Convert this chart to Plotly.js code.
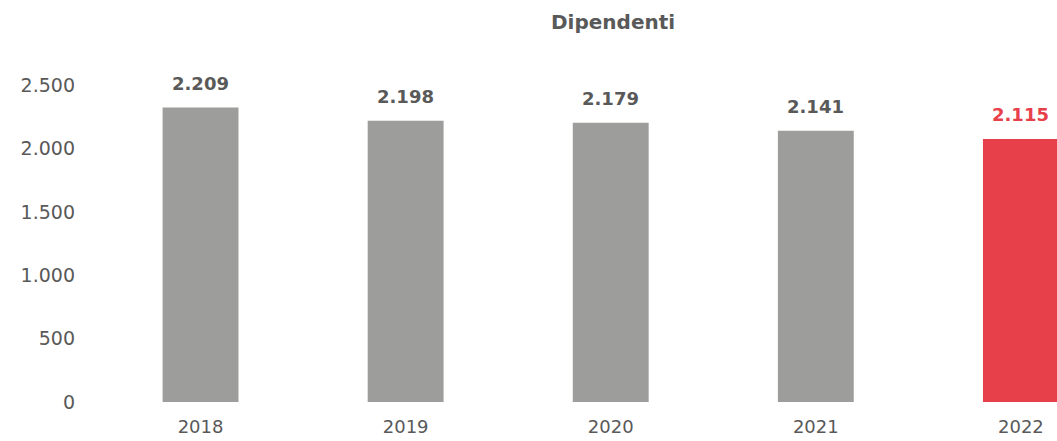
<!DOCTYPE html>
<html>
<head>
<meta charset="utf-8">
<script src="https://cdn.plot.ly/plotly-3.0.1.min.js"></script>
<style>html,body{margin:0;padding:0;background:#fff;}#chart{width:1057px;height:441px;}</style>
</head>
<body>
<div id="chart"></div>
<script>
var years = ['2018', '2019', '2020', '2021', '2022'];
var barValues = [2325, 2220, 2204, 2141, 2077];
var labelTexts = ['2.209', '2.198', '2.179', '2.141', '2.115'];
var barColors = ['#9d9d9c', '#9d9d9c', '#9d9d9c', '#9d9d9c', '#e8404b'];
var labelColors = ['#595959', '#595959', '#595959', '#595959', '#e8404b'];
var yTickVals = [0, 500, 1000, 1500, 2000, 2500];
var yTickText = ['0', '500', '1.000', '1.500', '2.000', '2.500'];
var chartTitle = 'Dipendenti';

var FONT = '"DejaVu Sans", sans-serif';

var trace = {
  type: 'bar',
  x: years,
  y: barValues,
  marker: {color: barColors},
  hoverinfo: 'none'
};

var annotations = years.map(function (yr, i) {
  return {
    x: i, y: barValues[i], xref: 'x', yref: 'y',
    text: '<b>' + labelTexts[i] + '</b>',
    showarrow: false, yanchor: 'bottom', yshift: 12,
    font: {family: FONT, size: 18, color: labelColors[i]}
  };
});

var layout = {
  width: 1057, height: 441,
  margin: {l: 98, r: 0, t: 60, b: 39},
  paper_bgcolor: '#ffffff', plot_bgcolor: '#ffffff',
  showlegend: false,
  bargap: 0.63,
  title: {
    text: '<b>' + chartTitle + '</b>',
    x: 0.58, xref: 'container', xanchor: 'center',
    y: 0.95, yref: 'container', yanchor: 'middle',
    font: {family: FONT, size: 20, color: '#595959'}
  },
  xaxis: {
    type: 'category',
    range: [-0.5, 4.176],
    showgrid: false, zeroline: false, showline: false, ticks: '',
    ticklabelstandoff: 12,
    tickfont: {family: FONT, size: 18, color: '#595959'}
  },
  yaxis: {
    range: [0, 2700],
    tickvals: yTickVals, ticktext: yTickText,
    showgrid: false, zeroline: false, showline: false, ticks: '',
    ticklabelstandoff: 22,
    tickfont: {family: FONT, size: 19, color: '#595959'}
  },
  annotations: annotations
};

Plotly.newPlot('chart', [trace], layout, {displayModeBar: false, staticPlot: true});
</script>
</body>
</html>
